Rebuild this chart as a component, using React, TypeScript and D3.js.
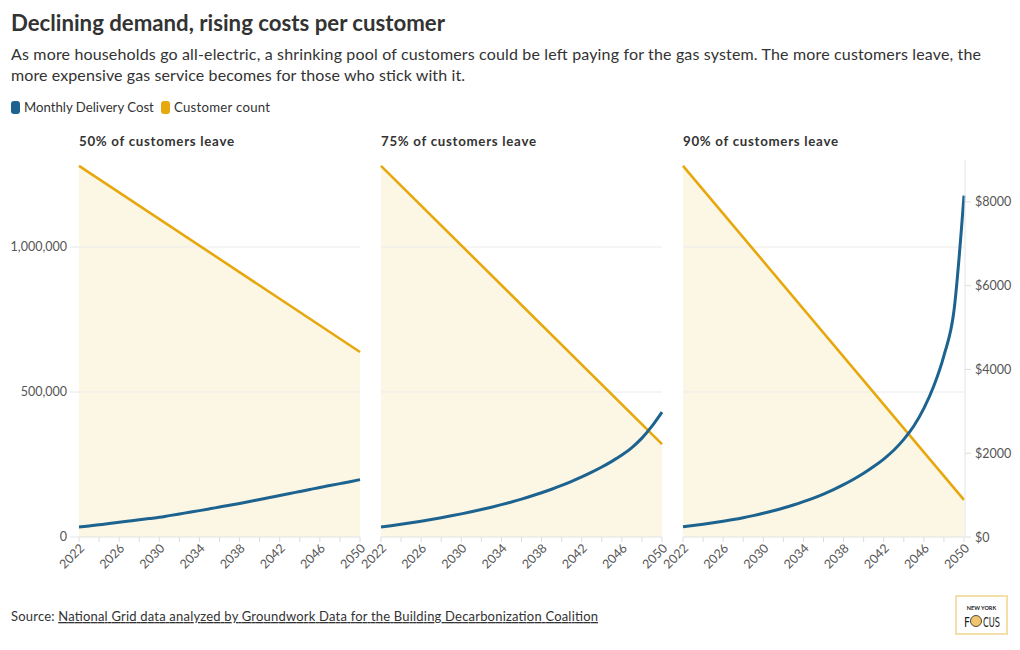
import React from "react";
import * as d3 from "d3";

const years = d3.range(2022, 2051);
const panelTitles = ["50% of customers leave", "75% of customers leave", "90% of customers leave"];
const customerStart = [1280000, 1280000, 1280000];
const customerEnd = [638000, 320000, 128000];
const cost50 = [238, 265, 292, 320, 350, 380, 410, 440, 470, 510, 550, 590, 630, 672, 715, 758, 802, 848, 895, 942, 990, 1038, 1085, 1133, 1183, 1228, 1274, 1320, 1370];
const cost75 = [238, 270, 304, 340, 378, 418, 460, 505, 552, 602, 655, 712, 772, 836, 905, 978, 1056, 1140, 1230, 1328, 1433, 1547, 1670, 1805, 1955, 2135, 2360, 2645, 2980];
const cost90 = [245, 273, 304, 338, 375, 416, 461, 511, 566, 626, 692, 764, 843, 930, 1026, 1132, 1249, 1378, 1521, 1681, 1861, 2071, 2331, 2651, 3071, 3611, 4331, 5400, 8150];
const costSeries = [cost50, cost75, cost90];
const leftTicks = [0, 500000, 1000000];
const rightTicks = [0, 2000, 4000, 6000, 8000];
const yearLabels = [2022, 2026, 2030, 2034, 2038, 2042, 2046, 2050];

const FONT = "'Source Sans Pro', Lato, 'Open Sans', sans-serif";
const BLUE = "#1c6390";
const ORANGE = "#e6a80c";
const FILL = "#fcf6e4";
const TEXT = "#333";
const AXIS = "#555";

export default function App() {
  const panelX = [79, 381, 683];
  const panelW = 281;
  const top = 160;
  const bottom = 537;
  const yLeft = d3.scaleLinear().domain([0, 1300000]).range([bottom, top]);
  const yRight = d3.scaleLinear().domain([0, 9000]).range([bottom, top]);
  const fmtLeft = d3.format(",");

  return (
    <svg width={1020} height={650} style={{ position: "absolute", left: 0, top: 0, fontFamily: FONT }}>
      <text x={11} y={31} fontSize={22.3} fontWeight={700} fill={TEXT} textLength={434} lengthAdjust="spacingAndGlyphs">
        Declining demand, rising costs per customer
      </text>
      <text x={11} y={60} fontSize={16} fill={TEXT} textLength={970} lengthAdjust="spacing">
        As more households go all-electric, a shrinking pool of customers could be left paying for the gas system. The more customers leave, the
      </text>
      <text x={11} y={81} fontSize={16} fill={TEXT} textLength={454} lengthAdjust="spacing">
        more expensive gas service becomes for those who stick with it.
      </text>
      {/* legend */}
      <rect x={11} y={101} width={9} height={13} rx={3} fill={BLUE} />
      <text x={24} y={112} fontSize={13.2} fill={TEXT}>Monthly Delivery Cost</text>
      <rect x={161} y={101} width={9} height={13} rx={3} fill={ORANGE} />
      <text x={174} y={112} fontSize={13.2} fill={TEXT} textLength={96} lengthAdjust="spacing">Customer count</text>

      {/* left axis labels */}
      {leftTicks.map((t) => (
        <g key={"lt" + t}>
          <text x={67} y={yLeft(t) + 4} fontSize={12.5} fill={AXIS} textAnchor="end">
            {fmtLeft(t)}
          </text>
          <line x1={70} x2={79} y1={yLeft(t)} y2={yLeft(t)} stroke="#e6e6e6" />
        </g>
      ))}

      {panelX.map((px, i) => {
        const x = d3.scaleLinear().domain([2022, 2050]).range([px, px + panelW]);
        const cust = [
          { year: 2022, v: customerStart[i] },
          { year: 2050, v: customerEnd[i] },
        ];
        const area = d3
          .area<{ year: number; v: number }>()
          .x((d) => x(d.year))
          .y0(bottom)
          .y1((d) => yLeft(d.v));
        const custLine = d3
          .line<{ year: number; v: number }>()
          .x((d) => x(d.year))
          .y((d) => yLeft(d.v));
        const costLine = d3
          .line<number>()
          .x((_, j) => x(years[j]))
          .y((d) => yRight(d))
          .curve(d3.curveMonotoneX);
        return (
          <g key={"p" + i}>
            <text x={px} y={146} fontSize={13.3} fontWeight={700} fill={TEXT} textLength={155} lengthAdjust="spacing">
              {panelTitles[i]}
            </text>
            <path d={area(cust) || ""} fill={FILL} />
            {leftTicks.slice(1).map((t) => (
              <line key={"g" + t} x1={px} x2={px + panelW} y1={yLeft(t)} y2={yLeft(t)} stroke="#ebebeb" strokeWidth={1} />
            ))}
            <line x1={px} x2={px + panelW} y1={bottom} y2={bottom} stroke="#e3e3e3" />
            {d3.range(2022, 2051, 2).map((yr) => (
              <line key={"tk" + yr} x1={x(yr)} x2={x(yr)} y1={bottom} y2={bottom + 5} stroke="#dcdcdc" />
            ))}
            {yearLabels.map((yr) => (
              <text
                key={"yl" + yr}
                transform={`translate(${x(yr) + 3},${bottom + 9}) rotate(-45)`}
                textAnchor="end"
                fontSize={12.5}
                fill={AXIS}
                dy="0.35em"
              >
                {yr}
              </text>
            ))}
            <path d={custLine(cust) || ""} fill="none" stroke={ORANGE} strokeWidth={2.6} />
            <path d={costLine(costSeries[i]) || ""} fill="none" stroke={BLUE} strokeWidth={3} />
          </g>
        );
      })}

      {/* right axis */}
      <line x1={965} x2={965} y1={top} y2={bottom} stroke="#e3e3e3" />
      {rightTicks.map((t) => (
        <g key={"rt" + t}>
          <line x1={965} x2={971} y1={yRight(t)} y2={yRight(t)} stroke="#dcdcdc" />
          <text x={975} y={yRight(t) + 4.5} fontSize={12.5} fill={AXIS}>
            {"$" + t}
          </text>
        </g>
      ))}

      {/* footer */}
      <text x={11} y={621} fontSize={13} fill={TEXT} textLength={587} lengthAdjust="spacing">
        Source:{" "}
        <tspan textDecoration="underline">
          National Grid data analyzed by Groundwork Data for the Building Decarbonization Coalition
        </tspan>
      </text>
      <g>
        <rect x={956} y={596} width={51} height={38} fill="#fff" stroke="#f3dfa8" strokeWidth={2} />
        <text x={981.5} y={610} fontSize={5.5} fontWeight={700} fill="#222" textAnchor="middle">NEW YORK</text>
        <text x={964} y={627} fontSize={14} fill="#222" fontFamily="'Liberation Sans Narrow', 'DejaVu Sans Condensed', sans-serif" textLength={6} lengthAdjust="spacingAndGlyphs">F</text>
        <circle cx={976} cy={621} r={5.5} fill="#f2c46d" stroke="#222" strokeWidth={0.8} />
        <text x={983} y={627} fontSize={14} fill="#222" fontFamily="'Liberation Sans Narrow', 'DejaVu Sans Condensed', sans-serif" textLength={17} lengthAdjust="spacingAndGlyphs">CUS</text>
      </g>
    </svg>
  );
}
